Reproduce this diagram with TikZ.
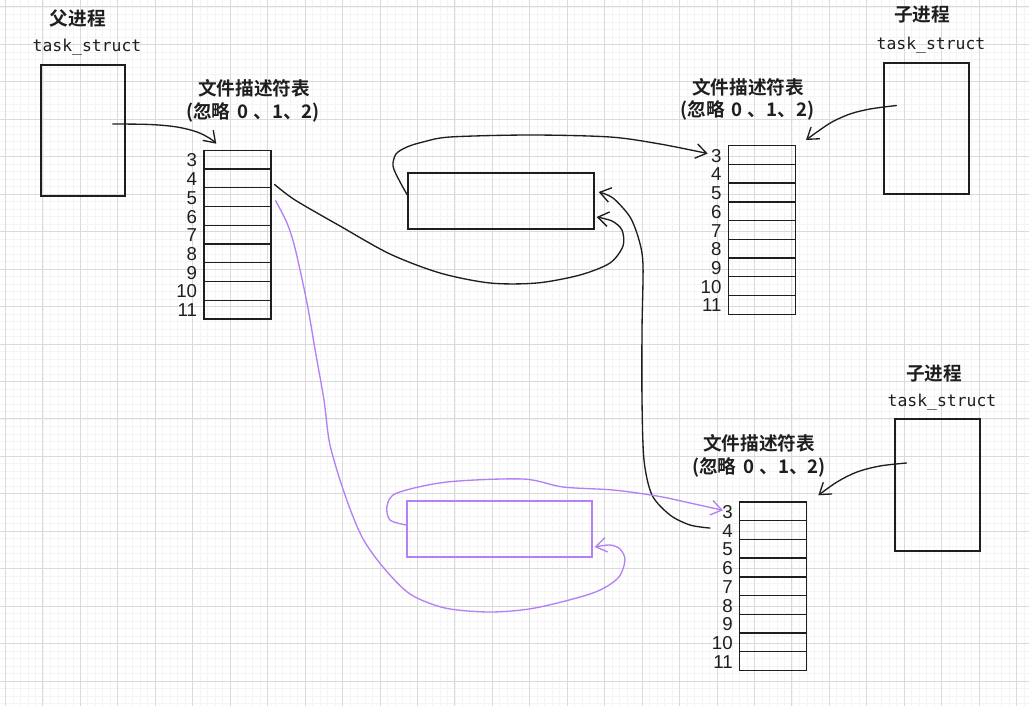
\documentclass[tikz,border=0pt]{standalone}
\usepackage{fontspec}
\newfontfamily\cjk{Noto Sans CJK SC}[BoldFont={Noto Sans CJK SC Bold}]
\newfontfamily\monof{DejaVu Sans Mono}
\newfontfamily\numf{Liberation Sans}
\usetikzlibrary{arrows.meta,fit}
\definecolor{ink}{HTML}{1E1E1E}
\definecolor{pur}{RGB}{180,128,246}
\definecolor{gmaj}{RGB}{218,218,218}
\definecolor{gmin}{RGB}{244,244,244}
\newcommand\fdtab[3]{%
  \foreach \n [count=\k from 0] in {3,...,11} {
    \node[cell] (#1\n) at (#2, {#3+\k*18.73}) {};
    \node[num] (#1l\n) at ([xshift=-4.5pt,yshift=-0.5pt]#1\n.west) {\n};
  }}
\newcommand\ignoretext{(忽略\hspace{5pt}0\hspace{4pt}、1、2)}
\begin{document}
\begin{tikzpicture}[x=0.75pt,y=-0.75pt,
  tbox/.style={draw=ink, line width=1pt, inner sep=0pt},
  pbox/.style={draw=pur, line width=1pt, inner sep=0pt},
  cell/.style={draw=ink, line width=1pt, minimum width=50.25pt, minimum height=14.05pt, inner sep=0pt, anchor=north west},
  num/.style={anchor=east, inner sep=0pt, font=\numf\fontsize{14}{16}\selectfont, text=ink},
  title/.style={inner sep=0pt, font=\cjk\bfseries\fontsize{14}{16}\selectfont, text=ink},
  paren/.style={inner sep=0pt, font=\cjk\bfseries\fontsize{14}{16}\selectfont, text=ink},
  mono/.style={inner sep=0pt, font=\monof\fontsize{12.3}{14}\selectfont, text=ink},
  conn/.style={draw=ink, line width=1pt, line cap=round, line join=round, -{Straight Barb[length=8pt,width=11pt]}},
  pconn/.style={conn, draw=pur}]
\useasboundingbox (0,0) rectangle (1029,706);
\fill[white] (0,0) rectangle (1029,706);
% grid
\foreach \k in {0,...,136} { \draw[gmin, line width=0.6pt] ({5.5+\k*7.49},0) -- ({5.5+\k*7.49},706); }
\foreach \k in {0,...,93} { \draw[gmin, line width=0.6pt] (0,{7+\k*7.49}) -- (1029,{7+\k*7.49}); }
\foreach \k in {0,...,27} { \draw[gmaj, line width=0.75pt] ({5.5+\k*37.45},0) -- ({5.5+\k*37.45},706); }
\foreach \k in {0,...,18} { \draw[gmaj, line width=0.75pt] (0,{7+\k*37.45}) -- (1029,{7+\k*37.45}); }

% parent process
\node[title] (ptitle) at (78,18) {父进程};
\node[mono] (pts) at (87,47) {task\_struct};
\node[tbox, fit={(41,65)(125,196)}] (ptask) {};
\node[title] (pfdt) at (254,88) {文件描述符表};
\node[paren] (pfdp) at (253,112) {\ignoretext};
\fdtab{p}{203.3}{149.7}

% child 1
\node[title] (c1title) at (922,15) {子进程};
\node[mono] (c1ts) at (931,45) {task\_struct};
\node[tbox, fit={(884,63)(969,194)}] (ctask1) {};
\node[title] (c1fdt) at (748,87) {文件描述符表};
\node[paren] (c1fdp) at (747.5,110) {\ignoretext};
\fdtab{c}{727.7}{145}

% child 2
\node[title] (c2title) at (934,373) {子进程};
\node[mono] (c2ts) at (942,402) {task\_struct};
\node[tbox, fit={(895,419)(980,551)}] (ctask2) {};
\node[title] (c2fdt) at (759,443) {文件描述符表};
\node[paren] (c2fdp) at (759,467) {\ignoretext};
\fdtab{q}{739}{501.3}

% file objects
\node[tbox, fit={(408,173)(594,229)}] (m1) {};
\node[pbox, fit={(407,501)(592,557)}] (m2) {};

% connector end points
\coordinate (s1) at ([shift={(-13,-6.5)}]ptask.east);
\coordinate (e1) at ([shift={(13,-6)}]p3.north west);
\coordinate (s2) at ([shift={(-30,-23)}]ctask1.center);
\coordinate (e2) at ([shift={(10,-5)}]c3.north east);
\coordinate (s3) at ([shift={(-31,-22)}]ctask2.center);
\coordinate (e3) at ([shift={(11,-6)}]q3.north east);
\coordinate (s4) at ([shift={(3,-4)}]p4.south east);
\coordinate (e4) at ([shift={(2,16)}]m1.east);
\coordinate (s5) at ([shift={(0,-6)}]m1.west);
\coordinate (e5) at ([shift={(-20,-1.5)}]c3.west);
\coordinate (s6) at ([shift={(-29,-2)}]q4.west);
\coordinate (e6) at ([shift={(4,-9)}]m1.east);
\coordinate (s7) at ([shift={(4,3.5)}]p5.east);
\coordinate (e7) at ([shift={(2,18)}]m2.east);
\coordinate (s8) at ([shift={(0,-4)}]m2.west);
\coordinate (e8) at ([shift={(-16,-1)}]q3.west);

\draw[conn] plot[smooth, tension=0.55] coordinates {(s1) (150,124.5) (177,127) (197,132) (210,138.5) (e1)};
\draw[conn] plot[smooth, tension=0.55] coordinates {(s2) (870,109) (850,114) (832,122) (817,132) (e2)};
\draw[conn] plot[smooth, tension=0.55] coordinates {(s3) (880,466) (857,472) (837,482) (e3)};
\draw[conn] plot[smooth, tension=0.5] coordinates {(s4) (295,200) (340,226) (390,254) (440,273) (490,283) (537,283) (580,275) (610,263) (623,246) (622,230) (612,221) (e4)};
\draw[conn] plot[smooth, tension=0.5] coordinates {(s5) (399,180) (393,166) (396,154) (407,147) (423,142) (450,137) (530,135) (610,137) (660,144) (e5)};
\draw[conn] plot[smooth, tension=0.5] coordinates {(s6) (690,525) (670,515) (652,495) (644,460) (642,400) (642,330) (643,265) (639,240) (630,217) (613,198) (e6)};
\draw[pconn] plot[smooth, tension=0.5] coordinates {(s7) (287,223) (295,248) (307,303) (316,355) (324,400) (330,445) (345,495) (362,537) (383,567) (410,594) (445,608) (490,612) (535,608) (593,593) (618,578) (625,560) (620,549) (610,545) (e7)};
\draw[pconn] plot[smooth, tension=0.5] coordinates {(s8) (390,520) (387,506) (397,493) (447,482) (523,479) (563,487) (613,490) (657,496) (690,503) (e8)};
\end{tikzpicture}
\end{document}
